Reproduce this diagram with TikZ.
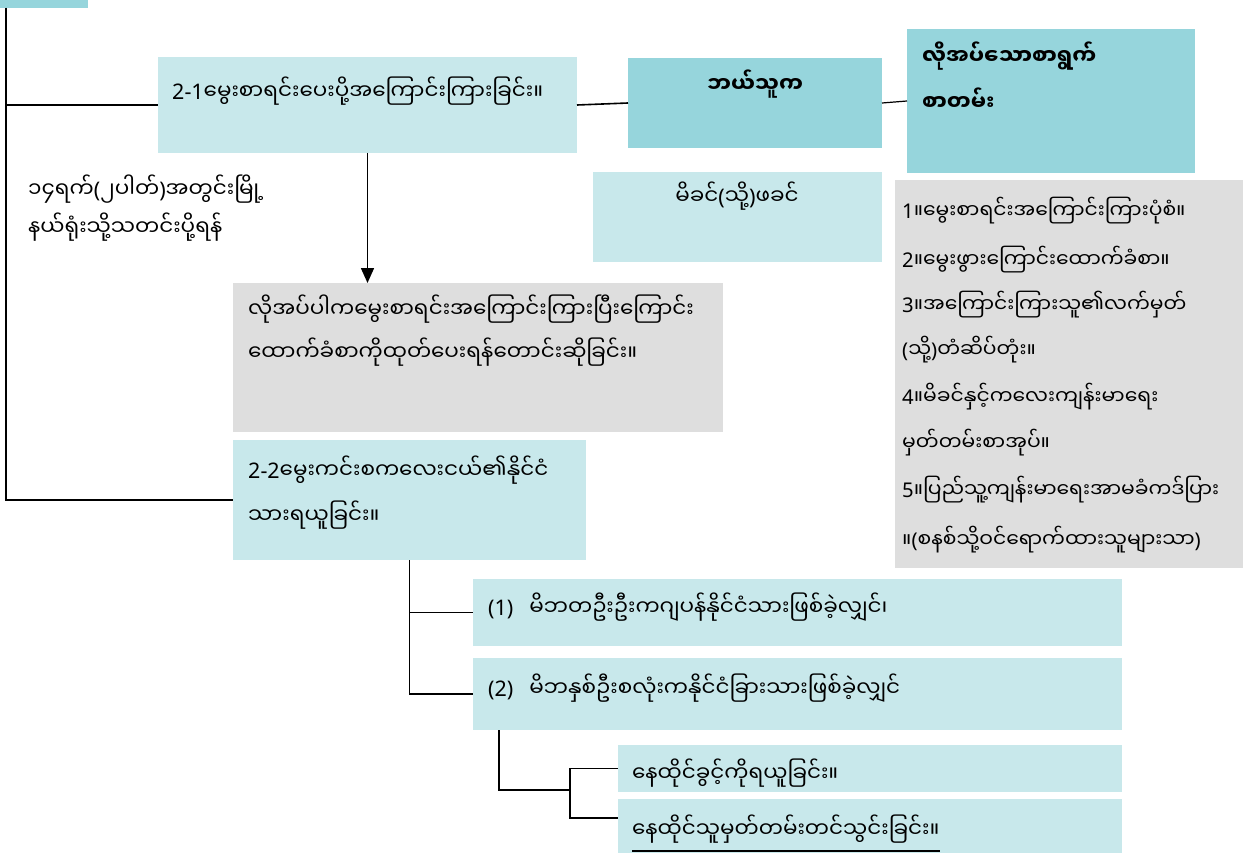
\documentclass[tikz,border=0pt]{standalone}
\usepackage{fontspec}
\usetikzlibrary{arrows.meta}
\newfontfamily\myf[Script=Myanmar]{Noto Sans Myanmar UI}
\newfontfamily\latf{Noto Sans}
\newcommand\lt[1]{{\latf #1}}
\definecolor{lightbox}{HTML}{C8E8EB}
\definecolor{darkbox}{HTML}{96D5DC}
\definecolor{graybox}{HTML}{DEDEDE}
\tikzset{
  box/.style={draw=none, inner sep=0pt, outer sep=0pt, anchor=north west, fill=lightbox},
  dbox/.style={box, fill=darkbox},
  gbox/.style={box, fill=graybox},
  txt/.style={inner sep=0pt, anchor=base west, font=\myf\fontsize{21.5}{24}\selectfont},
  ltxt/.style={txt, font=\myf\fontsize{20.3}{24}\selectfont},
  btxt/.style={txt, font=\myf\bfseries\fontsize{21.5}{24}\selectfont},
  conn/.style={line width=1.6pt, draw=black},
}
\begin{document}
\begin{tikzpicture}[x=1pt,y=-1pt]
\useasboundingbox (0,0) rectangle (1245,853);
% boxes
\node[dbox, minimum width=88pt, minimum height=8pt] (hdr) at (0,0) {};
\node[box, minimum width=419pt, minimum height=96pt] (b21) at (158,57) {};
\node[dbox, minimum width=254pt, minimum height=90pt] (who) at (628,58) {};
\node[dbox, minimum width=288pt, minimum height=144pt] (docs) at (907,29) {};
\node[box, minimum width=289pt, minimum height=90pt] (par) at (593,172) {};
\node[gbox, minimum width=490pt, minimum height=149pt] (req) at (233,283) {};
\node[gbox, minimum width=348pt, minimum height=388pt] (list) at (895,180) {};
\node[box, minimum width=353pt, minimum height=120pt] (b22) at (233,440) {};
\node[box, minimum width=649pt, minimum height=67pt] (b1) at (473,579) {};
\node[box, minimum width=649pt, minimum height=72pt] (b2) at (473,658) {};
\node[box, minimum width=504pt, minimum height=47pt] (ba) at (618,745) {};
\node[box, minimum width=504pt, minimum height=54pt] (bb) at (618,799) {};
% texts
\node[txt] (t21) at (172,100) {\lt{2-1}မွေးစာရင်းပေးပို့အကြောင်းကြားခြင်း။};
\node[btxt, anchor=base] (twho) at (755,93) {ဘယ်သူက};
\node[btxt] (td1) at (922,65) {လိုအပ်သောစာရွက်};
\node[btxt] (td2) at (922,111) {စာတမ်း};
\node[txt] (tl1) at (28,198) {၁၄ရက်\lt{(}၂ပါတ်\lt{)}အတွင်းမြို့};
\node[txt] (tl2) at (28,236) {နယ်ရုံးသို့သတင်းပို့ရန်};
\node[txt, anchor=base] (tm) at (737,205) {မိခင်\lt{(}သို့\lt{)}ဖခင်};
\node[txt] (tr1) at (248,317) {လိုအပ်ပါကမွေးစာရင်းအကြောင်းကြားပြီးကြောင်း};
\node[txt] (tr2) at (248,360) {ထောက်ခံစာကိုထုတ်ပေးရန်တောင်းဆိုခြင်း။};
\node[ltxt] (l1) at (902,219) {\lt{1}။မွေးစာရင်းအကြောင်းကြားပုံစံ။};
\node[ltxt] (l2) at (902,267) {\lt{2}။မွေးဖွားကြောင်းထောက်ခံစာ။};
\node[ltxt] (l3) at (902,312) {\lt{3}။အကြောင်းကြားသူ၏လက်မှတ်};
\node[ltxt] (l4) at (902,357) {\lt{(}သို့\lt{)}တံဆိပ်တုံး။};
\node[ltxt] (l5) at (902,404) {\lt{4}။မိခင်နှင့်ကလေးကျန်းမာရေး};
\node[ltxt] (l6) at (902,450) {မှတ်တမ်းစာအုပ်။};
\node[ltxt] (l7) at (902,497) {\lt{5}။ပြည်သူ့ကျန်းမာရေးအာမခံကဒ်ပြား};
\node[ltxt] (l8) at (902,547) {။\lt{(}စနစ်သို့ဝင်ရောက်ထားသူများသာ\lt{)}};
\node[txt] (t22a) at (248,478) {\lt{2-2}မွေးကင်းစကလေးငယ်၏နိုင်ငံ};
\node[txt] (t22b) at (248,523) {သားရယူခြင်း။};
\node[txt] (t1) at (488,615) {\lt{(1)}\hspace{16pt}မိဘတဦးဦးကဂျပန်နိုင်ငံသားဖြစ်ခဲ့လျှင်၊};
\node[txt] (t2) at (488,696) {\lt{(2)}\hspace{16pt}မိဘနှစ်ဦးစလုံးကနိုင်ငံခြားသားဖြစ်ခဲ့လျှင်};
\node[txt] (ta) at (632,781) {နေထိုင်ခွင့်ကိုရယူခြင်း။};
\node[txt] (tb) at (632,837) {နေထိုင်သူမှတ်တမ်းတင်သွင်းခြင်း။};
\draw[line width=1.3pt] (tb.base west |- 0,851) -- (tb.base east |- 0,851);
% connectors
\coordinate (spine) at ([xshift=6pt]hdr.south west);
\draw[conn] (spine) |- (b21.west);
\draw[conn] (spine) |- (b22.west);
\draw[conn] (b21.east) -- (who.west);
\draw[conn, line width=1.2pt] (who.east) -- (docs.west);
\draw[conn, -{Triangle[width=13pt,length=15pt]}] (b21.south) -- (b21.south |- req.north);
\draw[conn] (b22.south) |- (b1.west);
\draw[conn] (b22.south) |- (b2.west);
\coordinate (fk) at (570,790);
\coordinate (bbin) at (618,818);
\draw[conn] ([xshift=26pt]b2.south west) |- (fk);
\draw[conn] (fk) |- (ba.west);
\draw[conn] (fk) |- (bbin);
\end{tikzpicture}
\end{document}
